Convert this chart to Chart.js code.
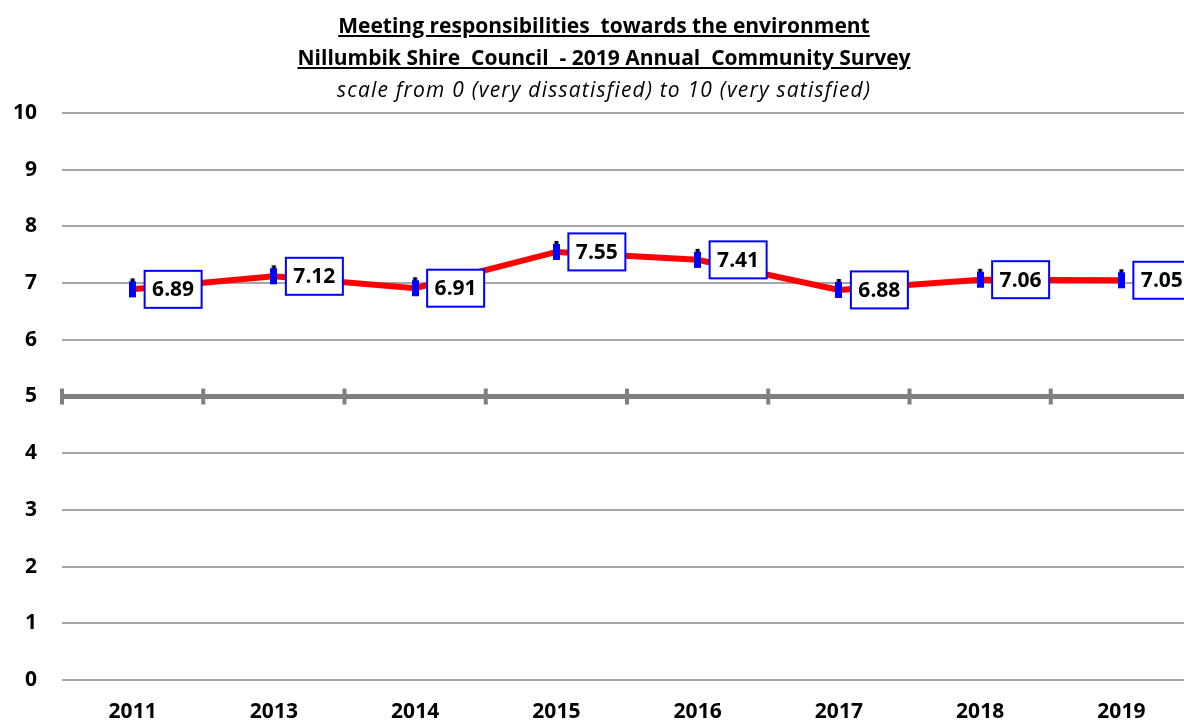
<!DOCTYPE html>
<html>
<head>
<meta charset="utf-8">
<script src="https://cdn.jsdelivr.net/npm/chart.js@4"></script>
<style>
  html, body { margin: 0; padding: 0; background: #fff; overflow: hidden; }
  #wrap { position: relative; width: 1206px; height: 722px; }
  #titles {
    position: absolute; left: 0; top: 9px; width: 1208px;
    text-align: center; font-family: "Open Sans", sans-serif;
    font-size: 21px; line-height: 32px; color: #000;
  }
  #titles .t { font-weight: bold; text-decoration: underline; }
  #titles .s { font-style: italic; letter-spacing: 1.2px; }
</style>
</head>
<body>
<div id="wrap">
  <canvas id="chart" width="1206" height="722"></canvas>
  <div id="titles">
    <div class="t">Meeting responsibilities&nbsp; towards the environment</div>
    <div class="t">Nillumbik Shire&nbsp; Council&nbsp; - 2019 Annual&nbsp; Community Survey</div>
    <div class="s">scale from 0 (very dissatisfied) to 10 (very satisfied)</div>
  </div>
</div>
<script>
'use strict';

// ── Data ──
const years = ['2011', '2013', '2014', '2015', '2016', '2017', '2018', '2019'];
const scores = [6.89, 7.12, 6.91, 7.55, 7.41, 6.88, 7.06, 7.05];

const FONT = "'Open Sans', sans-serif";

// blue bar marker with little black cap on top
function makeMarker() {
  const c = document.createElement('canvas');
  c.width = 7; c.height = 24;
  const g = c.getContext('2d');
  g.fillStyle = '#000';
  g.fillRect(1.5, 1, 4, 4);
  g.fillStyle = '#0000ff';
  g.fillRect(0, 4, 7, 16);
  return c;
}

// thick "axis" line at 5 with crossing ticks at category boundaries
const midAxisPlugin = {
  id: 'midAxis',
  beforeDatasetsDraw(chart) {
    const { ctx, scales: { x, y } } = chart;
    const yy = y.getPixelForValue(5);
    const half = (x.getPixelForValue(1) - x.getPixelForValue(0)) / 2;
    ctx.save();
    ctx.strokeStyle = '#808080';
    ctx.lineWidth = 4;
    for (let i = 0; i < years.length; i++) {
      const xx = x.getPixelForValue(i) - half;
      ctx.beginPath();
      ctx.moveTo(xx, yy - 8);
      ctx.lineTo(xx, yy + 8);
      ctx.stroke();
    }
    ctx.restore();
  },
};

// boxed value labels to the right of each point
const boxLabelPlugin = {
  id: 'boxLabels',
  afterDatasetsDraw(chart) {
    const { ctx } = chart;
    const meta = chart.getDatasetMeta(0);
    ctx.save();
    ctx.font = 'bold 21px ' + FONT;
    ctx.textAlign = 'center';
    ctx.textBaseline = 'middle';
    meta.data.forEach((pt, i) => {
      const w = 57, h = 37;
      const left = pt.x + 12, top = pt.y - h / 2;
      ctx.fillStyle = '#fff';
      ctx.fillRect(left, top, w, h);
      ctx.strokeStyle = '#0000ff';
      ctx.lineWidth = 2;
      ctx.strokeRect(left, top, w, h);
      ctx.fillStyle = '#000';
      ctx.fillText(scores[i].toFixed(2), left + w / 2, pt.y + 1);
    });
    ctx.restore();
  },
};

new Chart(document.getElementById('chart').getContext('2d'), {
  type: 'line',
  data: {
    labels: years,
    datasets: [{
      data: scores,
      borderColor: '#ff0000',
      borderWidth: 6,
      tension: 0,
      pointStyle: makeMarker(),
      pointRadius: 8,
    }],
  },
  options: {
    responsive: false,
    animation: false,
    layout: { padding: { top: 113, right: 0, left: 0, bottom: 0 } },
    plugins: {
      legend: { display: false },
      tooltip: { enabled: false },
    },
    scales: {
      x: {
        offset: true,
        grid: { display: false },
        border: { display: false },
        ticks: { color: '#000', font: { family: FONT, size: 21, weight: 'bold' }, padding: 11, maxRotation: 0 },
        afterFit(s) { s.height = 42; },
      },
      y: {
        min: 0,
        max: 10,
        border: { display: false },
        grid: {
          color: ctx => (ctx.tick && ctx.tick.value === 5 ? '#808080' : '#a6a6a6'),
          lineWidth: ctx => (ctx.tick && ctx.tick.value === 5 ? 5 : 2),
          drawTicks: false,
        },
        ticks: {
          stepSize: 1,
          color: '#000',
          padding: 25,
          font: { family: FONT, size: 21, weight: 'bold' },
        },
        afterFit(s) { s.width = 62; },
      },
    },
  },
  plugins: [midAxisPlugin, boxLabelPlugin],
});
</script>
</body>
</html>
